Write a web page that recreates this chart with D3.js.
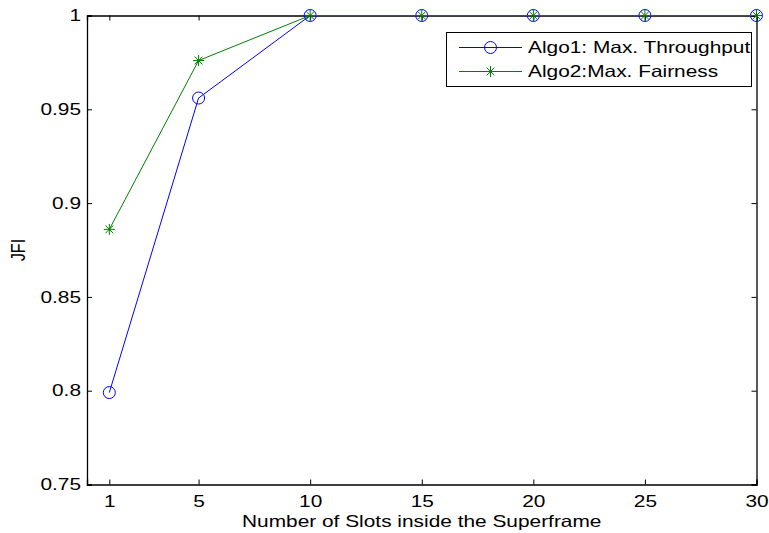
<!DOCTYPE html>
<html>
<head>
<meta charset="utf-8">
<script src="https://cdn.jsdelivr.net/npm/d3@7"></script>
<style>
  html, body { margin: 0; padding: 0; background: #fff; }
  svg { display: block; font-family: "Liberation Sans", Arial, sans-serif; }
</style>
</head>
<body>
<svg id="chart" width="769" height="533"></svg>
<script>
// Slots per superframe and resulting Jain's fairness index
const slots = [1, 5, 10, 15, 20, 25, 30];
const algo1 = [0.799, 0.956, 1, 1, 1, 1, 1];
const algo2 = [0.886, 0.976, 1, 1, 1, 1, 1];
const xTicks = [1, 5, 10, 15, 20, 25, 30];
const yTicks = [0.75, 0.8, 0.85, 0.9, 0.95, 1];
const seriesNames = ["Algo1: Max. Throughput", "Algo2:Max. Fairness"];

const svg = d3.select("#chart");
const margin = { left: 87, right: 12.5, top: 15.5, bottom: 48.5 };
const W = 769, H = 533;
const x = d3.scaleLinear().domain([0, 30]).range([margin.left, W - margin.right]);
const y = d3.scaleLinear().domain([0.75, 1]).range([H - margin.bottom, margin.top]);

const FS = 16.3;      // label font size
const SX = 1.28;      // horizontal glyph stretch of all labels
const tickLen = 5;
const x0 = x.range()[0], x1 = x.range()[1], y0 = y.range()[0], y1 = y.range()[1];

// widen a text element horizontally while keeping its anchor point
function stretch(sel) {
  sel.each(function () {
    const t = d3.select(this);
    const tx = +t.attr("x") || 0;
    t.attr("x", tx / SX).attr("transform", `scale(${SX},1)`);
  });
}

// Axes with inward ticks on all four sides
const g = svg.append("g");
g.append("g").attr("transform", `translate(0,${y0})`)
  .call(d3.axisBottom(x).tickValues(xTicks).tickSize(-tickLen).tickPadding(11).tickFormat(d3.format("d")));
g.append("g").attr("transform", `translate(0,${y1})`)
  .call(d3.axisTop(x).tickValues(xTicks).tickSize(-tickLen).tickFormat(""));
g.append("g").attr("class", "yl").attr("transform", `translate(${x0},0)`)
  .call(d3.axisLeft(y).tickValues(yTicks).tickSize(-tickLen).tickPadding(6).tickFormat(d => String(+d.toFixed(2))));
g.append("g").attr("transform", `translate(${x1},0)`)
  .call(d3.axisRight(y).tickValues(yTicks).tickSize(-tickLen).tickFormat(""));
g.selectAll(".domain").attr("stroke", "#000").attr("stroke-width", 1.3);
g.selectAll(".tick line").attr("stroke", "#000");
g.selectAll(".tick text").attr("font-size", FS).attr("fill", "#000")
  .attr("font-family", "'Liberation Sans', Arial, sans-serif").call(stretch);

// Axis titles
svg.append("text").attr("x", (x0 + x1) / 2).attr("y", 527)
  .attr("text-anchor", "middle").attr("font-size", FS).text("Number of Slots inside the Superframe")
  .call(stretch);
svg.append("text").attr("transform", `translate(25,${(y0 + y1) / 2}) scale(${SX},1) rotate(-90)`)
  .attr("text-anchor", "middle").attr("font-size", FS).text("JFI");

const line = d3.line().x((d, i) => x(slots[i])).y(d => y(d));

function circleMarker(sel, cx, cy, color) {
  sel.append("circle").attr("cx", cx).attr("cy", cy).attr("r", 6)
    .attr("fill", "none").attr("stroke", color).attr("stroke-width", 1);
}
function starMarker(sel, cx, cy, color) {
  const r = 5.5, d = r * 0.707;
  const p = `M${cx - r},${cy}L${cx + r},${cy}M${cx},${cy - r}L${cx},${cy + r}` +
    `M${cx - d},${cy - d}L${cx + d},${cy + d}M${cx - d},${cy + d}L${cx + d},${cy - d}`;
  sel.append("path").attr("d", p).attr("stroke", color).attr("stroke-width", 1).attr("fill", "none");
}

const blue = "#0000ff", green = "#008000";
const plot = svg.append("g");
plot.append("path").datum(algo1).attr("d", line).attr("fill", "none").attr("stroke", blue).attr("stroke-width", 1);
algo1.forEach((v, i) => circleMarker(plot, x(slots[i]), y(v), blue));
plot.append("path").datum(algo2).attr("d", line).attr("fill", "none").attr("stroke", green).attr("stroke-width", 1);
algo2.forEach((v, i) => starMarker(plot, x(slots[i]), y(v), green));

// Legend
const lg = svg.append("g");
lg.append("rect").attr("x", 446.5).attr("y", 32.5).attr("width", 305).attr("height", 54)
  .attr("fill", "#fff").attr("stroke", "#000").attr("stroke-width", 1);
const rows = [{ name: seriesNames[0], c: blue, m: circleMarker, yy: 47.5 },
              { name: seriesNames[1], c: green, m: starMarker, yy: 71.5 }];
rows.forEach(r => {
  lg.append("line").attr("x1", 459).attr("x2", 522).attr("y1", r.yy).attr("y2", r.yy)
    .attr("stroke", r.c).attr("stroke-width", 1);
  r.m(lg, 490.5, r.yy, r.c);
  lg.append("text").attr("x", 528).attr("y", r.yy + 6).attr("font-size", FS).text(r.name).call(stretch);
});
</script>
</body>
</html>
